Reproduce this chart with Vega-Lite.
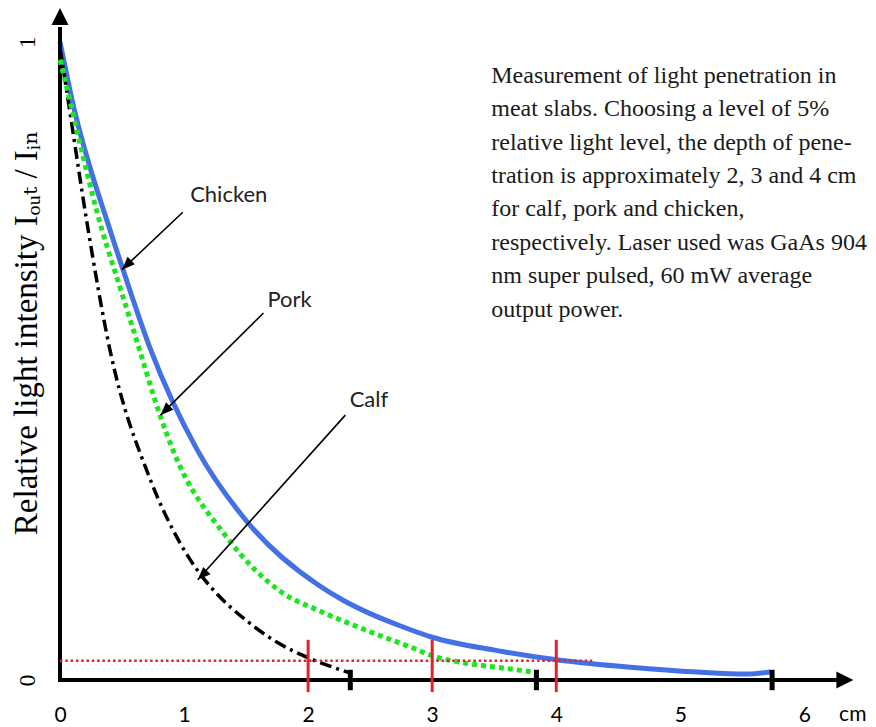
{
  "$schema": "https://vega.github.io/schema/vega-lite/v6.json",
  "width": 794,
  "height": 672,
  "autosize": {"type": "none"},
  "padding": {"left": 60, "top": 8, "right": 22, "bottom": 47},
  "background": "white",
  "config": {
    "view": {"stroke": null},
    "axis": {"grid": false, "domain": false, "ticks": false, "titleOpacity": 0, "labelColor": "black", "labelFlush": false},
    "axisX": {"labelFont": "Lato", "labelFontSize": 21, "labelPadding": 35, "labelBaseline": "middle"},
    "axisY": {"labelFont": "Liberation Serif", "labelFontSize": 24, "labelAngle": 270, "labelAlign": "center", "labelBaseline": "middle", "labelPadding": 33}
  },
  "datasets": {
    "curves": [
      {"series": "Chicken", "depth": 0, "value": 1.0},
      {"series": "Chicken", "depth": 0.097, "value": 0.909},
      {"series": "Chicken", "depth": 0.403, "value": 0.705},
      {"series": "Chicken", "depth": 0.52, "value": 0.636},
      {"series": "Chicken", "depth": 0.726, "value": 0.52},
      {"series": "Chicken", "depth": 1.105, "value": 0.361},
      {"series": "Chicken", "depth": 1.508, "value": 0.248},
      {"series": "Chicken", "depth": 2.073, "value": 0.15},
      {"series": "Chicken", "depth": 2.282, "value": 0.125},
      {"series": "Chicken", "depth": 2.5, "value": 0.104},
      {"series": "Chicken", "depth": 2.74, "value": 0.085},
      {"series": "Chicken", "depth": 3.0, "value": 0.067},
      {"series": "Chicken", "depth": 3.524, "value": 0.046},
      {"series": "Chicken", "depth": 4.032, "value": 0.031},
      {"series": "Chicken", "depth": 4.597, "value": 0.02},
      {"series": "Chicken", "depth": 5.137, "value": 0.0125},
      {"series": "Chicken", "depth": 5.54, "value": 0.0094},
      {"series": "Chicken", "depth": 5.726, "value": 0.0125},
      {"series": "Pork", "depth": 0, "value": 0.972},
      {"series": "Pork", "depth": 0.024, "value": 0.953},
      {"series": "Pork", "depth": 0.339, "value": 0.705},
      {"series": "Pork", "depth": 0.484, "value": 0.615},
      {"series": "Pork", "depth": 0.629, "value": 0.525},
      {"series": "Pork", "depth": 0.806, "value": 0.415},
      {"series": "Pork", "depth": 0.911, "value": 0.36},
      {"series": "Pork", "depth": 1.347, "value": 0.223},
      {"series": "Pork", "depth": 1.798, "value": 0.136},
      {"series": "Pork", "depth": 2.07, "value": 0.11},
      {"series": "Pork", "depth": 2.34, "value": 0.088},
      {"series": "Pork", "depth": 2.6, "value": 0.068},
      {"series": "Pork", "depth": 2.82, "value": 0.052},
      {"series": "Pork", "depth": 3.0, "value": 0.038},
      {"series": "Pork", "depth": 3.25, "value": 0.027},
      {"series": "Pork", "depth": 3.52, "value": 0.02},
      {"series": "Pork", "depth": 3.815, "value": 0.0125},
      {"series": "Calf", "depth": 0, "value": 0.99},
      {"series": "Calf", "depth": 0.065, "value": 0.909},
      {"series": "Calf", "depth": 0.218, "value": 0.716},
      {"series": "Calf", "depth": 0.403, "value": 0.517},
      {"series": "Calf", "depth": 0.726, "value": 0.315},
      {"series": "Calf", "depth": 0.97, "value": 0.214},
      {"series": "Calf", "depth": 1.13, "value": 0.166},
      {"series": "Calf", "depth": 1.27, "value": 0.134},
      {"series": "Calf", "depth": 1.51, "value": 0.092},
      {"series": "Calf", "depth": 1.75, "value": 0.059},
      {"series": "Calf", "depth": 2.0, "value": 0.035},
      {"series": "Calf", "depth": 2.339, "value": 0.011}
    ],
    "levels": [{"depth": 2}, {"depth": 3}, {"depth": 4}],
    "ends": [{"depth": 2.34}, {"depth": 3.84}, {"depth": 5.74}],
    "notes": [
      {"label": "Chicken", "tx": 1.36, "ty": 0.76, "sx": 0.99, "sy": 0.733, "ex": 0.5, "ey": 0.643},
      {"label": "Pork", "tx": 1.85, "ty": 0.596, "sx": 1.64, "sy": 0.575, "ex": 0.81, "ey": 0.415},
      {"label": "Calf", "tx": 2.49, "ty": 0.439, "sx": 2.3, "sy": 0.415, "ex": 1.11, "ey": 0.157}
    ]
  },
  "layer": [
    {
      "data": {"name": "curves"},
      "transform": [{"filter": "datum.series === 'Chicken'"}],
      "mark": {"type": "line", "color": "#4470e6", "strokeWidth": 5, "interpolate": "monotone"},
      "encoding": {
        "x": {
          "field": "depth", "type": "quantitative",
          "scale": {"domain": [0, 6.4], "nice": false, "zero": false},
          "axis": {"values": [0, 1, 2, 3, 4, 5, 6], "format": "d", "title": null}
        },
        "y": {
          "field": "value", "type": "quantitative",
          "scale": {"domain": [0, 1.053], "nice": false, "zero": false},
          "axis": {"values": [0, 1], "format": "d", "title": null}
        }
      }
    },
    {
      "data": {"values": [{}]},
      "mark": {"type": "rule", "color": "black", "strokeWidth": 4, "strokeCap": "square"},
      "encoding": {
        "x": {"datum": 0, "type": "quantitative"},
        "y": {"datum": 0, "type": "quantitative"},
        "y2": {"datum": 1.02}
      }
    },
    {
      "data": {"values": [{}]},
      "mark": {"type": "rule", "color": "black", "strokeWidth": 4, "strokeCap": "square"},
      "encoding": {
        "x": {"datum": 0, "type": "quantitative"},
        "x2": {"datum": 6.3},
        "y": {"datum": 0, "type": "quantitative"}
      }
    },
    {
      "data": {"name": "curves"},
      "transform": [{"filter": "datum.series === 'Calf'"}],
      "mark": {"type": "line", "color": "black", "strokeWidth": 3.5, "strokeDash": [12, 5, 3, 5], "interpolate": "monotone"},
      "encoding": {
        "x": {"field": "depth", "type": "quantitative"},
        "y": {"field": "value", "type": "quantitative"}
      }
    },
    {
      "data": {"name": "curves"},
      "transform": [{"filter": "datum.series === 'Pork'"}],
      "mark": {"type": "line", "color": "#1ee61e", "strokeWidth": 5, "strokeDash": [5, 4], "strokeCap": "butt", "interpolate": "monotone"},
      "encoding": {
        "x": {"field": "depth", "type": "quantitative"},
        "y": {"field": "value", "type": "quantitative"}
      }
    },
    {
      "data": {"values": [{}]},
      "mark": {"type": "rule", "color": "#e8202a", "strokeWidth": 2.5, "strokeDash": [2.5, 2.8]},
      "encoding": {
        "x": {"datum": 0, "type": "quantitative"},
        "x2": {"datum": 4.29},
        "y": {"datum": 0.03, "type": "quantitative"}
      }
    },
    {
      "data": {"name": "levels"},
      "mark": {"type": "rule", "color": "#e8202a", "strokeWidth": 3},
      "encoding": {
        "x": {"field": "depth", "type": "quantitative"},
        "y": {"datum": -0.019, "type": "quantitative"},
        "y2": {"datum": 0.063}
      }
    },
    {
      "data": {"name": "ends"},
      "mark": {"type": "rule", "color": "black", "strokeWidth": 5},
      "encoding": {
        "x": {"field": "depth", "type": "quantitative"},
        "y": {"datum": -0.016, "type": "quantitative"},
        "y2": {"datum": 0.016}
      }
    },
    {
      "data": {"name": "notes"},
      "mark": {"type": "rule", "color": "black", "strokeWidth": 1.6},
      "encoding": {
        "x": {"field": "sx", "type": "quantitative"},
        "y": {"field": "sy", "type": "quantitative"},
        "x2": {"field": "ex"},
        "y2": {"field": "ey"}
      }
    },
    {
      "data": {"name": "notes"},
      "mark": {"type": "point", "shape": "M0,0L-0.4,1L0.4,1Z", "filled": true, "color": "black", "opacity": 1, "strokeWidth": 0, "size": 676, "angle": 225},
      "encoding": {
        "x": {"field": "ex", "type": "quantitative"},
        "y": {"field": "ey", "type": "quantitative"}
      }
    },
    {
      "data": {"name": "notes"},
      "mark": {"type": "text", "font": "Lato", "fontSize": 22, "color": "#222222", "align": "center", "baseline": "middle"},
      "encoding": {
        "x": {"field": "tx", "type": "quantitative"},
        "y": {"field": "ty", "type": "quantitative"},
        "text": {"field": "label"}
      }
    },
    {
      "data": {"values": [{}]},
      "mark": {"type": "point", "shape": "M0,0L-0.5,1L0.5,1Z", "filled": true, "color": "black", "opacity": 1, "strokeWidth": 0, "size": 1156, "angle": 0},
      "encoding": {
        "x": {"datum": 0, "type": "quantitative"},
        "y": {"datum": 1.053, "type": "quantitative"}
      }
    },
    {
      "data": {"values": [{}]},
      "mark": {"type": "point", "shape": "M0,0L-0.5,1L0.5,1Z", "filled": true, "color": "black", "opacity": 1, "strokeWidth": 0, "size": 1156, "angle": 90},
      "encoding": {
        "x": {"datum": 6.395, "type": "quantitative"},
        "y": {"datum": 0, "type": "quantitative"}
      }
    },
    {
      "data": {"values": [{}]},
      "mark": {"type": "text", "font": "Lato", "fontSize": 21, "color": "black", "align": "center", "baseline": "middle", "text": "cm"},
      "encoding": {
        "x": {"datum": 6.39, "type": "quantitative"},
        "y": {"datum": -0.055, "type": "quantitative"}
      }
    },
    {
      "data": {"values": [{}]},
      "mark": {"type": "text", "font": "Liberation Serif, DejaVu Serif", "fontSize": 33, "color": "black", "align": "center", "baseline": "middle", "angle": 270, "text": "Relative light intensity  Iₒᵤₜ / Iᵢₙ"},
      "encoding": {
        "x": {"datum": -0.266, "type": "quantitative"},
        "y": {"datum": 0.544, "type": "quantitative"}
      }
    },
    {
      "data": {"values": [{}]},
      "mark": {"type": "text", "font": "Liberation Serif", "fontSize": 24, "color": "#1a1a1a", "align": "left", "baseline": "alphabetic", "lineBreak": "\n", "lineHeight": 33.4,
        "text": "Measurement of light penetration in\nmeat slabs. Choosing a level of 5%\nrelative light level, the depth of pene-\ntration is approximately 2, 3 and 4 cm\nfor calf, pork and chicken,\nrespectively. Laser used was GaAs 904\nnm super pulsed, 60 mW average\noutput power."},
      "encoding": {
        "x": {"datum": 3.476, "type": "quantitative"},
        "y": {"datum": 0.9357, "type": "quantitative"}
      }
    }
  ]
}
